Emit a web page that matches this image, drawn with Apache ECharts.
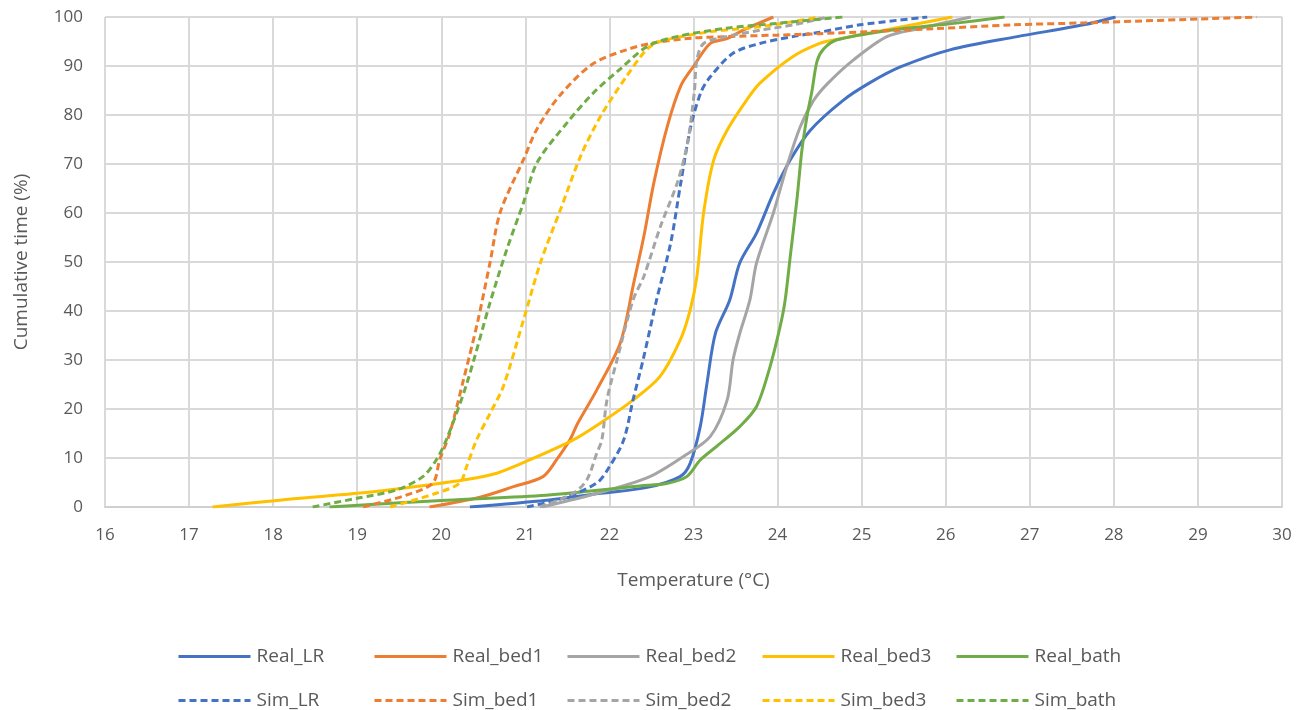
<!doctype html>
<html lang="en">
<head>
	<meta charset="utf-8" />
	<title>Cumulative time vs temperature</title>
	<script src="https://cdn.jsdelivr.net/npm/echarts@6/dist/echarts.min.js"></script>
	<style>
		html, body { margin: 0; padding: 0; background: #fff; }
		#main { width: 1307px; height: 710px; }
	</style>
</head>
<body>
	<div id="main"></div>
	<script>
		// [temperature °C, cumulative time %]
		var realLR = [[20.34,0],[21.25,1.4],[21.9,2.8],[22.45,4],[22.84,6.2],[22.96,8.9],[23.08,16.4],[23.16,25.2],[23.26,35.4],[23.43,42.2],[23.55,49.8],[23.75,55.9],[23.95,64],[24.15,70.8],[24.39,76.9],[24.78,83],[25.1,86.6],[25.46,89.8],[26.05,93.3],[26.85,96],[27.64,98.4],[28.02,100]];
		var realBed1 = [[19.86,0],[20.46,2],[20.85,4.1],[21.21,6.2],[21.37,9.6],[21.53,13.7],[21.62,17],[21.85,23.9],[22.13,33.5],[22.29,45.8],[22.41,55.3],[22.53,66.3],[22.69,77.8],[22.85,86],[23.0,89.9],[23.2,94.6],[23.4,95.6],[23.59,97.3],[23.95,100]];
		var realBed2 = [[21.2,0],[21.9,3],[22.48,6.2],[22.88,10.3],[23.2,14.4],[23.4,21.8],[23.47,30],[23.55,35.4],[23.67,42.2],[23.75,49.8],[23.95,60],[24.11,69.5],[24.27,77.6],[24.43,83],[24.6,86.5],[24.9,91.2],[25.3,96],[25.7,97.7],[26.3,100]];
		var realBed3 = [[17.28,0],[18.08,1.4],[19.0,2.8],[19.66,4.1],[20.26,5.5],[20.66,6.9],[21.05,9.6],[21.57,13.7],[21.89,17.1],[22.28,21.8],[22.6,26.6],[22.84,34],[22.96,40.2],[23.04,47],[23.12,60],[23.24,70.8],[23.4,76.9],[23.63,83],[23.79,86.5],[24.18,91.9],[24.5,94.6],[24.67,95.3],[25.3,97.4],[26.08,100]];
		var realBath = [[18.67,0],[20.06,1.4],[21.25,2.4],[22.36,4.3],[22.68,4.8],[22.92,6.2],[23.08,9.6],[23.27,12.3],[23.55,16.4],[23.75,20.5],[23.91,28.6],[24.03,36.8],[24.09,42.2],[24.15,51],[24.23,62.7],[24.29,72.9],[24.35,79.7],[24.41,85],[24.47,91],[24.55,93.5],[24.7,95.3],[25.3,97.2],[26.1,98.7],[26.7,100]];
		var simLR = [[21.02,0],[21.45,1.8],[21.85,4.9],[22.0,8.2],[22.17,13.7],[22.28,21.8],[22.4,30],[22.56,42.2],[22.73,54],[22.85,66.3],[22.97,77.8],[23.09,84.7],[23.2,87.8],[23.47,92.6],[23.79,94.6],[24.18,96],[24.5,96.9],[24.98,98.4],[25.78,100]];
		var simBed1 = [[19.07,0],[19.58,2.4],[19.9,4.9],[19.98,9.6],[20.1,15],[20.25,25],[20.43,37.6],[20.58,49.9],[20.7,60.1],[20.98,71],[21.14,77.2],[21.41,84],[21.8,90.4],[22.2,93.3],[22.52,94.7],[22.99,95.7],[23.39,96],[23.99,96.3],[24.5,96.6],[25.85,97.6],[26.8,98.4],[27.64,98.8],[29.7,100]];
		var simBed2 = [[21.17,0],[21.57,2.8],[21.73,5.5],[21.85,11],[21.91,13.7],[21.97,21.8],[22.09,30],[22.28,42.2],[22.41,47.1],[22.61,57.4],[22.81,66.3],[22.93,74.4],[23.01,84.7],[23.04,91.2],[23.12,94.6],[23.39,96],[23.79,97.3],[24.19,98.4],[24.6,100]];
		var simBed3 = [[19.39,0],[19.94,2.8],[20.22,4.9],[20.3,8.2],[20.42,13.7],[20.58,19.1],[20.74,24.7],[20.98,38.3],[21.18,49.9],[21.42,60.8],[21.66,71.7],[21.9,79.9],[22.2,87.8],[22.44,93.3],[22.6,95],[23.2,97],[23.79,98],[24.5,100]];
		var simBath = [[18.47,0],[19.0,1.8],[19.47,3.5],[19.78,6.2],[19.94,9.6],[20.06,13.7],[20.3,25],[20.58,41.7],[20.78,52.6],[20.98,62.2],[21.14,70.3],[21.5,78.5],[21.82,84.7],[22.13,89.4],[22.45,94],[22.8,96],[23.39,97.7],[23.99,98.7],[24.78,100]];

		var realNames = ['Real_LR', 'Real_bed1', 'Real_bed2', 'Real_bed3', 'Real_bath'];
		var simNames = ['Sim_LR', 'Sim_bed1', 'Sim_bed2', 'Sim_bed3', 'Sim_bath'];
		var realData = [realLR, realBed1, realBed2, realBed3, realBath];
		var simData = [simLR, simBed1, simBed2, simBed3, simBath];
		var colors = ['#4472C4', '#ED7D31', '#A5A5A5', '#FFC000', '#70AD47'];

		var textColor = '#595959';
		var font = 'Open Sans';
		var legendCols = [172, 368, 561, 756, 950];

		function makeSeries(name, data, color, dashed) {
			return {
				name: name,
				type: 'line',
				data: data,
				showSymbol: false,
				symbol: 'none',
				smooth: 0.3,
				color: color,
				lineStyle: { width: 3, color: color, type: dashed ? [7, 4] : 'solid' },
				z: dashed ? 3 : 2
			};
		}

		var series = [];
		realNames.forEach(function (n, i) { series.push(makeSeries(n, realData[i], colors[i], false)); });
		simNames.forEach(function (n, i) { series.push(makeSeries(n, simData[i], colors[i], true)); });

		// one legend per entry so the columns line up like the original
		var legends = [];
		function addLegend(name, left, top) {
			legends.push({
				data: [name],
				left: left,
				top: top,
				itemWidth: 72,
				itemHeight: 14,
				itemStyle: { opacity: 0 },
				lineStyle: { width: 3 },
				textStyle: { fontFamily: font, fontSize: 19, color: textColor, padding: [0, 0, 0, 1] }
			});
		}
		realNames.forEach(function (n, i) { addLegend(n, legendCols[i], 642); });
		simNames.forEach(function (n, i) { addLegend(n, legendCols[i], 686); });

		var chart = echarts.init(document.getElementById('main'));
		chart.setOption({
			animation: false,
			grid: { left: 105, right: 25, top: 17, bottom: 203, containLabel: false },
			legend: legends,
			xAxis: {
				type: 'value',
				min: 16, max: 30, interval: 1,
				name: 'Temperature (°C)',
				nameLocation: 'middle',
				nameGap: 64,
				nameTextStyle: { fontFamily: font, fontSize: 19, color: textColor },
				axisLine: { show: true, lineStyle: { color: '#d0d0d0', width: 2 } },
				axisTick: { show: false },
				axisLabel: { fontFamily: font, fontSize: 17, color: textColor, margin: 20 },
				splitLine: { show: true, lineStyle: { color: '#d9d9d9', width: 2 } }
			},
			yAxis: {
				type: 'value',
				min: 0, max: 100, interval: 10,
				name: 'Cumulative time (%)',
				nameLocation: 'middle',
				nameGap: 74,
				nameTextStyle: { fontFamily: font, fontSize: 19, color: textColor },
				axisLine: { show: false },
				axisTick: { show: false },
				axisLabel: { fontFamily: font, fontSize: 17, color: textColor, margin: 22 },
				splitLine: { show: true, lineStyle: { color: '#d9d9d9', width: 2 } }
			},
			series: series
		});
	</script>
</body>
</html>
